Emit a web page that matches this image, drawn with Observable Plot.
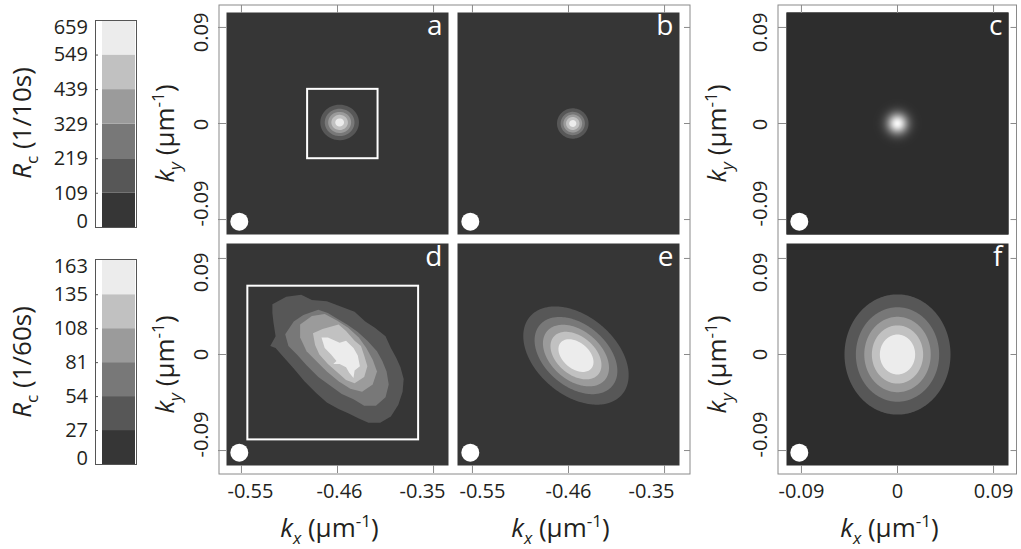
<!DOCTYPE html>
<html><head><meta charset="utf-8">
<script src="https://cdn.jsdelivr.net/npm/d3@7"></script>
<script src="https://cdn.jsdelivr.net/npm/@observablehq/plot@0.6"></script>
<style>
body{margin:0;background:#fff;}
#fig{position:relative;width:1021px;height:549px;overflow:hidden;background:#fff;}
#fig svg{position:absolute;overflow:visible;}
</style></head><body><div id="fig"></div>
<script>
// ---------------- data ----------------
const grayLevels = ["#363636", "#575757", "#787878", "#9b9b9b", "#c1c1c1", "#ececec"];
const rc10Ticks = [0, 109, 219, 329, 439, 549, 659];
const rc60Ticks = [0, 27, 54, 81, 108, 135, 163];
const kxTickValuesL = [-0.55, -0.46, -0.37];
const kxTickLabelsL = ["-0.55", "-0.46", "-0.35"];
const kxTickValuesC = [-0.09, 0, 0.09];
const kxTickLabelsC = ["-0.09", "0", "0.09"];
const kyTickValues = [-0.09, 0, 0.09];
const kyTickLabels = ["-0.09", "0", "0.09"];
const panelLetters = ["a", "b", "c", "d", "e", "f"];
// fitted spots: centre (kx, ky), peak Rc, sigma along s1 / s2 axes, tilt (deg)
const spotA = {kx: -0.458, ky: 0.001, peak: 600, s1: 0.0098, s2: 0.0090, tilt: 0};
const spotB = {kx: -0.456, ky: 0.000, peak: 600, s1: 0.0080, s2: 0.0077, tilt: 0};
const spotC = {kx: 0.000, ky: 0.000, peak: 640, s1: 0.0068, s2: 0.0068, tilt: 0};
const spotE = {kx: -0.453, ky: -0.001, peak: 165, s1: 0.0297, s2: 0.0194, tilt: -40};
const spotF = {kx: 0.000, ky: 0.000, peak: 165, s1: 0.0261, s2: 0.0296, tilt: 0};
// measured contours of panel d (kx, ky), one polygon per Rc level
const dLevels = [27, 54, 81, 108, 135];
const dContour27 = [[-0.521,0.047],[-0.508,0.054],[-0.494,0.056],[-0.484,0.051],[-0.470,0.050],[-0.457,0.045],[-0.444,0.040],[-0.434,0.031],[-0.425,0.025],[-0.415,0.017],[-0.410,0.006],[-0.405,-0.003],[-0.401,-0.012],[-0.398,-0.023],[-0.399,-0.035],[-0.403,-0.047],[-0.410,-0.058],[-0.420,-0.064],[-0.431,-0.064],[-0.440,-0.060],[-0.450,-0.055],[-0.459,-0.051],[-0.470,-0.045],[-0.480,-0.036],[-0.491,-0.025],[-0.501,-0.013],[-0.510,-0.003],[-0.518,0.006],[-0.523,0.008],[-0.518,0.017],[-0.520,0.030],[-0.521,0.039]];
const dContour54 = [[-0.509,0.019],[-0.501,0.031],[-0.492,0.037],[-0.478,0.042],[-0.469,0.039],[-0.461,0.034],[-0.451,0.028],[-0.441,0.021],[-0.432,0.013],[-0.423,0.003],[-0.418,-0.006],[-0.414,-0.016],[-0.412,-0.028],[-0.415,-0.040],[-0.424,-0.048],[-0.435,-0.048],[-0.445,-0.042],[-0.456,-0.037],[-0.467,-0.029],[-0.478,-0.021],[-0.489,-0.010],[-0.498,0.000],[-0.506,0.008]];
const dContour81 = [[-0.495,0.028],[-0.484,0.036],[-0.472,0.038],[-0.461,0.032],[-0.450,0.025],[-0.440,0.016],[-0.433,0.006],[-0.427,-0.005],[-0.423,-0.016],[-0.427,-0.028],[-0.437,-0.035],[-0.448,-0.032],[-0.459,-0.025],[-0.470,-0.016],[-0.479,-0.007],[-0.489,0.003],[-0.495,0.016]];
const dContour108 = [[-0.483,0.020],[-0.474,0.024],[-0.459,0.028],[-0.452,0.022],[-0.444,0.013],[-0.438,0.008],[-0.435,-0.001],[-0.432,-0.011],[-0.435,-0.021],[-0.444,-0.027],[-0.452,-0.024],[-0.461,-0.016],[-0.469,-0.009],[-0.477,0.000],[-0.481,0.009]];
const dContour135 = [[-0.475,0.016],[-0.469,0.016],[-0.458,0.011],[-0.452,0.013],[-0.445,0.006],[-0.441,-0.001],[-0.439,-0.011],[-0.444,-0.015],[-0.445,-0.022],[-0.449,-0.017],[-0.452,-0.012],[-0.458,-0.009],[-0.464,-0.009],[-0.461,-0.006],[-0.466,0.000],[-0.472,0.006]];
const dContours = [dContour27, dContour54, dContour81, dContour108, dContour135];
// regions of interest and beam-size markers
const roiA = {x1: -0.488, x2: -0.422, y1: -0.033, y2: 0.032};
const roiD = {x1: -0.544, x2: -0.384, y1: -0.080, y2: 0.064};
const beamL = {kx: -0.552, ky: -0.092};
const beamC = {kx: -0.092, ky: -0.092};

// ---------------- helpers ----------------
const FONT = "'Open Sans', sans-serif";
const INK = "#231f20";
const TICK = "#8a8a8a";
const BG = "#363636", BG2 = "#2d2d2d";
const PS = 222, HALF = 0.104;
const domL = [-0.46 - HALF, -0.46 + HALF], domC = [-HALF, HALF], domY = [-HALF, HALF];
const fig = document.getElementById("fig");
const NS = "http://www.w3.org/2000/svg";

function place(svg, left, top) { svg.style.left = left + "px"; svg.style.top = top + "px"; fig.appendChild(svg); return svg; }

function rich(svg, plain, parts, fs) {
  for (const t of svg.querySelectorAll("text")) {
    if (t.textContent !== plain) continue;
    while (t.firstChild) t.removeChild(t.firstChild);
    let shift = 0;
    for (const p of parts) {
      const ts = document.createElementNS(NS, "tspan");
      const target = p.sub ? 0.26 * fs : p.sup ? -0.36 * fs : 0;
      ts.setAttribute("dy", target - shift); shift = target;
      if (p.sub || p.sup) ts.setAttribute("font-size", 0.66 * fs);
      if (p.it) ts.setAttribute("font-style", "italic");
      ts.textContent = p.t;
      t.appendChild(ts);
    }
  }
}
const KY = "ky (μm-1)", KX = "kx (μm-1)";
const kyParts = [{t: "k", it: 1}, {t: "y", it: 1, sub: 1}, {t: " (μm"}, {t: "-1", sup: 1}, {t: ")"}];
const kxParts = [{t: "k", it: 1}, {t: "x", it: 1, sub: 1}, {t: " (μm"}, {t: "-1", sup: 1}, {t: ")"}];

function gauss(s) {
  const a = s.tilt * Math.PI / 180, c = Math.cos(a), sn = Math.sin(a);
  return (x, y) => {
    const dx = x - s.kx, dy = y - s.ky;
    const u = dx * c + dy * sn, v = -dx * sn + dy * c;
    return s.peak * Math.exp(-0.5 * (u * u / (s.s1 * s.s1) + v * v / (s.s2 * s.s2)));
  };
}
const contourOf = (spot, dom, ticks) => Plot.contour({x1: dom[0], x2: dom[1], y1: domY[0], y2: domY[1], fill: gauss(spot), thresholds: ticks.slice(1, -1), stroke: "none", pixelSize: 1});

// ---------------- colour bars ----------------
function colorbar(ticks, title, left, top, w, h, titleDy) {
  const bands = d3.pairs(ticks, (lo, hi) => ({lo, hi}));
  const mL = 100, mR = 6, mT = 12, mB = 12;
  const n = ticks.length - 1;
  const lab = {text: d => String(d), frameAnchor: "left", textAnchor: "end", lineAnchor: "middle", dx: -7.5, fontSize: 20, fill: INK};
  const marks = [
    Plot.rect(bands, {y1: "lo", y2: "hi", fill: "lo", insetLeft: 7, insetRight: 1}),
    Plot.frame({stroke: "#555"}),
    Plot.axisY({ticks, tickSize: 3, dx: 3, tickFormat: () => "", stroke: "#555", label: null}),
    Plot.text(ticks.slice(1, -1), {...lab, y: d => d}),
    Plot.text([ticks[n]], {...lab, y: d => d, dy: 7}),
    Plot.text([ticks[0]], {...lab, y: d => d, dy: -6}),
    Plot.text([title], {frameAnchor: "left", textAnchor: "middle", lineAnchor: "middle", rotate: -90, dx: -73, dy: titleDy, fontSize: 26, fill: INK})
  ];
  const svg = Plot.plot({
    width: mL + w + mR, height: mT + h + mB,
    marginLeft: mL, marginRight: mR, marginTop: mT, marginBottom: mB,
    x: {axis: null}, y: {domain: [ticks[0], ticks[n]], axis: null},
    color: {type: "threshold", domain: ticks.slice(1, -1), range: grayLevels},
    style: {background: "transparent", overflow: "visible", fontFamily: FONT},
    marks
  });
  rich(svg, title, [{t: "R", it: 1}, {t: "c", sub: 1}, {t: title.slice(2)}], 26);
  place(svg, left - mL, top - mT);
}
colorbar(rc10Ticks, "Rc (1/10s)", 95, 20, 41, 207, -1);
colorbar(rc60Ticks, "Rc (1/60s)", 95, 259, 41, 205, 0);

// ---------------- outer frames ----------------
function outerFrame(left, top, w, h) {
  const svg = Plot.plot({width: w, height: h, margin: 0, x: {axis: null}, y: {axis: null},
    style: {background: "transparent", overflow: "visible"},
    marks: [Plot.frame({stroke: TICK, inset: 0.5})]});
  place(svg, left, top);
}
outerFrame(217.5, 3.5, 472, 470);
outerFrame(776.5, 3.5, 239.5, 470);

// ---------------- panels ----------------
function panel(cfg) {
  const mL = 110, mR = 14, mT = 10, mB = 80;
  const marks = [Plot.frame({fill: cfg.bg}), ...cfg.marks];
  marks.push(Plot.dot([cfg.beam], {x: "kx", y: "ky", r: 9, fill: "white", stroke: "none"}));
  marks.push(Plot.text([cfg.letter], {frameAnchor: "top-right", textAnchor: "end", lineAnchor: "top", dx: -6, dy: cfg.letterDy, fill: "white", fontSize: 28, fontFamily: FONT}));
  const ax = {tickFormat: () => "", stroke: TICK, label: null};
  if (cfg.sides.includes("t")) marks.push(Plot.axisX({...ax, anchor: "top", ticks: cfg.xTicks, tickSize: 8}));
  if (cfg.sides.includes("b")) marks.push(Plot.axisX({...ax, anchor: "bottom", ticks: cfg.xTicks, tickSize: 8}));
  if (cfg.sides.includes("l")) marks.push(Plot.axisY({...ax, anchor: "left", ticks: kyTickValues, tickSize: 8}));
  if (cfg.sides.includes("r")) marks.push(Plot.axisY({...ax, anchor: "right", ticks: kyTickValues, tickSize: 6, dx: cfg.rightGap}));
  if (cfg.xLabels) {
    cfg.xTicks.forEach((v, i) => marks.push(Plot.text([{v, lab: cfg.xLabels[i]}], {x: "v", text: "lab", frameAnchor: "bottom", textAnchor: "middle", lineAnchor: "middle", dy: 26.5, dx: cfg.xLabelDx[i], fontSize: 20, fill: INK})));
    marks.push(Plot.text([KX], {frameAnchor: "bottom", textAnchor: "middle", lineAnchor: "middle", dy: 63, dx: -8, fontSize: 26, fill: INK}));
  }
  if (cfg.yLabels) {
    kyTickValues.forEach((v, i) => marks.push(Plot.text([{v, lab: kyTickLabels[i]}], {y: "v", text: "lab", frameAnchor: "left", textAnchor: "middle", lineAnchor: "middle", rotate: -90, dx: cfg.yLabelDx, dy: cfg.yLabelDy[i], fontSize: 20, fill: INK})));
    marks.push(Plot.text([KY], {frameAnchor: "left", textAnchor: "middle", lineAnchor: "middle", rotate: -90, dx: cfg.yTitleDx, dy: 10, fontSize: 26, fill: INK}));
  }
  const svg = Plot.plot({
    width: mL + PS + mR, height: mT + PS + mB,
    marginLeft: mL, marginRight: mR, marginTop: mT, marginBottom: mB,
    x: {domain: cfg.xDomain, axis: null}, y: {domain: domY, axis: null},
    color: cfg.color,
    style: {background: "transparent", overflow: "visible", fontFamily: FONT},
    marks
  });
  rich(svg, KX, kxParts, 26);
  rich(svg, KY, kyParts, 26);
  place(svg, cfg.left - mL, cfg.top - mT);
}

const color10 = {type: "threshold", domain: rc10Ticks.slice(1, -1), range: grayLevels};
const color60 = {type: "threshold", domain: rc60Ticks.slice(1, -1), range: grayLevels};
const dTable = dContours.flatMap((poly, i) => poly.map(([kx, ky]) => ({kx, ky, level: dLevels[i]})));
const roiMark = roi => Plot.rect([roi], {x1: "x1", x2: "x2", y1: "y1", y2: "y2", fill: "none", stroke: "white", strokeWidth: 2});

panel({left: 226, top: 12, xDomain: domL, xTicks: kxTickValuesL, bg: BG, color: color10, beam: beamL, letter: panelLetters[0], letterDy: 3,
  sides: "tl", yLabels: true, yLabelDx: -24.5, yLabelDy: [-16, 1, 5], yTitleDx: -61,
  marks: [contourOf(spotA, domL, rc10Ticks), roiMark(roiA)]});
panel({left: 457, top: 12, xDomain: domL, xTicks: kxTickValuesL, bg: BG, color: color10, beam: beamL, letter: panelLetters[1], letterDy: 3,
  sides: "tr", rightGap: 4,
  marks: [contourOf(spotB, domL, rc10Ticks)]});
panel({left: 786, top: 12, xDomain: domC, xTicks: kxTickValuesC, bg: BG2, beam: beamC, letter: panelLetters[2], letterDy: 3,
  color: {type: "linear", domain: [0, 659], range: [BG2, "#ffffff"]},
  sides: "tlr", rightGap: 1.5, yLabels: true, yLabelDx: -26, yLabelDy: [-16, 1, 5], yTitleDx: -68.5,
  marks: [Plot.raster({x1: domC[0], x2: domC[1], y1: domY[0], y2: domY[1], fill: gauss(spotC), pixelSize: 1})]});
panel({left: 226, top: 243, xDomain: domL, xTicks: kxTickValuesL, bg: BG, color: color60, beam: beamL, letter: panelLetters[3], letterDy: 3,
  sides: "bl", xLabels: kxTickLabelsL, xLabelDx: [9, 2, -11], yLabels: true, yLabelDx: -24.5, yLabelDy: [-16, 0, 14], yTitleDx: -61,
  marks: [Plot.line(dTable, {x: "kx", y: "ky", z: "level", fill: "level", stroke: "none", curve: "linear-closed"}), roiMark(roiD)]});
panel({left: 457, top: 243, xDomain: domL, xTicks: kxTickValuesL, bg: BG, color: color60, beam: beamL, letter: panelLetters[4], letterDy: 3,
  sides: "br", rightGap: 4, xLabels: kxTickLabelsL, xLabelDx: [10, 0, -13],
  marks: [contourOf(spotE, domL, rc60Ticks)]});
panel({left: 786, top: 243, xDomain: domC, xTicks: kxTickValuesC, bg: BG2, color: color60, beam: beamC, letter: panelLetters[5], letterDy: 3,
  sides: "blr", rightGap: 1.5, xLabels: kxTickLabelsC, xLabelDx: [0, 0, 0], yLabels: true, yLabelDx: -26, yLabelDy: [-16, 0, 14], yTitleDx: -68.5,
  marks: [contourOf(spotF, domC, rc60Ticks)]});
</script></body></html>
